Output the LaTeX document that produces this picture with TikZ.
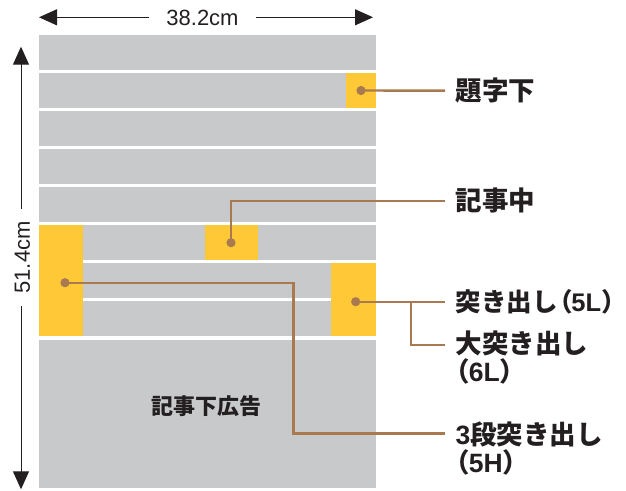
\documentclass[tikz,border=0pt]{standalone}
\usepackage{fontspec}
\usetikzlibrary{arrows.meta}
\newfontfamily\jpfont{Noto Sans CJK JP}
\newfontfamily\ppfont{Noto Sans CJK JP}[RawFeature=+palt]
\newfontfamily\latfont{Liberation Sans}
\newcommand\pp[1]{{\ppfont\bfseries #1}}
\newcommand\pc[1]{\makebox[0.45em][l]{\jpfont\bfseries #1}}
\newcommand\lat[1]{{\latfont\bfseries #1}}
\definecolor{pgray}{HTML}{C8C9CB}
\definecolor{pyellow}{HTML}{FFC836}
\definecolor{pbrown}{HTML}{A97A50}
\definecolor{ptext}{HTML}{231F20}
\begin{document}
\begin{tikzpicture}[x=1pt,y=-1pt,
  conn/.style={draw=pbrown, line width=2.4pt},
  lead/.style={conn, shorten >=10.5pt},
  dotfill/.style={fill=pbrown},
  lbl/.style={font=\jpfont\bfseries\fontsize{26.5}{28.3}\selectfont, text=ptext, inner sep=0pt, align=left},
  dim/.style={draw=ptext, line width=1pt, -{Triangle[length=18pt,width=16pt]}},
  dimtxt/.style={font=\latfont\fontsize{22}{26}\selectfont, text=ptext, inner ysep=0pt}
]
\useasboundingbox (0,0) rectangle (626,490);
% rows
\foreach \i in {0,...,7} {
  \fill[pgray] (39,{35+38.06*\i}) rectangle (376,{35+38.06*\i+34.8});
}
\fill[pgray] (39,339.5) rectangle (376,488.3);
% highlighted boxes
\fill[pyellow] (345.7,73.06) rectangle (376,107.86);
\fill[pyellow] (205,225.3) rectangle (257.7,260.1);
\fill[pyellow] (39,225.3) rectangle (82.7,336.2);
\fill[pyellow] (331,263.4) rectangle (376,336.2);
% ad text
\node[font=\jpfont\bfseries\fontsize{22}{24}\selectfont, text=ptext, inner sep=0pt] (ad) at (206.7,405.7) {記事下広告};
% dimension arrows
\node[dimtxt, inner xsep=16.8pt] (w) at (202.5,18.3) {38.2cm};
\coordinate (wl) at (39,17.3);
\coordinate (wr) at (373,17.3);
\draw[dim] (w.west |- wl) -- (wl);
\draw[dim] (w.east |- wr) -- (wr);
\node[dimtxt, rotate=90, inner xsep=12.5pt] (h) at (22.5,257.5) {51.4cm};
\coordinate (ht) at (21,46.7);
\coordinate (hb) at (21,489.3);
\draw[dim] (h.east -| ht) -- (ht);
\draw[dim] (h.west -| hb) -- (hb);
% dot positions
\coordinate (d1) at (361,90.5);
\coordinate (d2) at (231,242.7);
\coordinate (d3) at (355.7,301.7);
\coordinate (d4) at (65,282.7);
% labels
\node[lbl, anchor=west] (l1) at (455.5,90.7) {題字下};
\node[lbl, anchor=west] (l2) at (455.5,200.8) {記事中};
\node[lbl, anchor=west, font=\jpfont\bfseries\fontsize{25.5}{28.3}\selectfont] (l3) at (455.5,301.7) {突き出し\kern1pt\pp{（}\lat{5L}\pc{）}};
\coordinate (c4) at (445,345);
\coordinate (b3) at (411,301.7);
\node[lbl, anchor=north west] (l4) at (455.5,330.6) {大突き出し\\\pp{（}\lat{6L}\pc{）}};
\coordinate (c5) at (445,433.3);
\coordinate (k5) at (293.3,433.3);
\node[lbl, anchor=north west] (l5) at (455.5,421.3) {\lat{3}段突き出し\\\pp{（}\lat{5H}\pc{）}};
% connectors
\draw[lead] (d1) -- (l1.west);
\draw[lead] (d2) |- (l2.west);
\draw[lead] (d3) -- (l3.west);
\draw[conn] (b3) |- (c4);
\draw[conn] (d4) -| (k5) -- (c5);
% dots
\foreach \d in {d1,d2,d3,d4} \fill[dotfill] (\d) circle (4.6pt);
\end{tikzpicture}
\end{document}
